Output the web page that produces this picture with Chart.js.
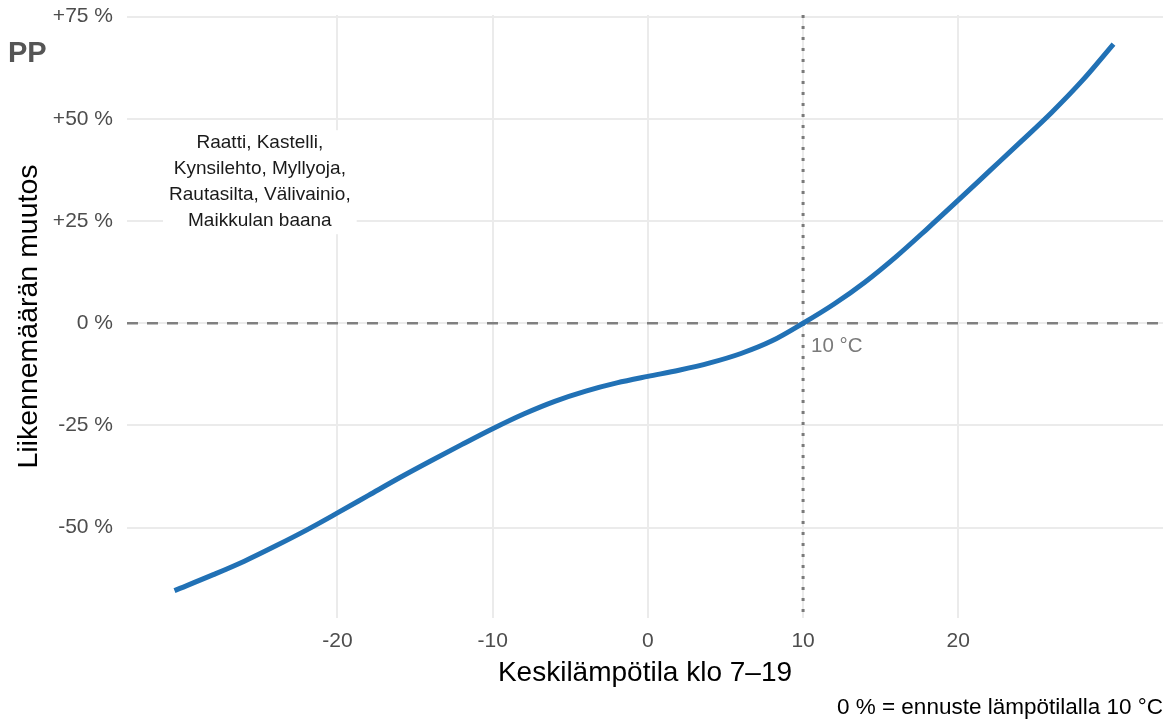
<!DOCTYPE html>
<html>
<head>
<meta charset="utf-8">
<script src="https://cdn.jsdelivr.net/npm/chart.js@4/dist/chart.umd.min.js"></script>
<style>
  html, body { margin: 0; padding: 0; background: #fff; }
  canvas { display: block; }
</style>
</head>
<body>
<canvas id="chart" width="1171" height="722"></canvas>
<script>
// mean temperature 7-19 (°C) and modelled change in traffic volume (%)
const temps = [-30.5, -28, -26, -24, -22, -20, -18, -16, -14, -12, -10, -8, -6, -4, -2, 0,
    2, 4, 6, 8, 10, 12, 14, 16, 18, 20, 22, 24, 26, 28, 30];
const change = [-65.4, -61.5, -58.2, -54.5, -50.6, -46.4, -42.1, -37.8, -33.7, -29.7, -25.8, -22.2, -19.1, -16.6, -14.6, -13.0,
    -11.5, -9.7, -7.4, -4.3, 0, 4.7, 10.1, 16.3, 23.1, 30.1, 37.2, 44.3, 51.5, 59.4, 68.3];

const xTicks = [-20, -10, 0, 10, 20];
const yTicks = [-50, -25, 0, 25, 50, 75];
const stationLines = ['Raatti, Kastelli,', 'Kynsilehto, Myllyoja,', 'Rautasilta, Välivainio,', 'Maikkulan baana'];

const refTemp = 10;
const noteAt = {x: -25, y: 34.5};
const FONT = "'Liberation Sans', Arial, sans-serif";

function pctLabel(v) {
    return (v > 0 ? '+' : '') + v + ' %';
}

const extras = {
    id: 'extras',
    beforeDatasetsDraw: function (chart) {
        const {ctx, chartArea: a, scales: {x, y}} = chart;
        ctx.save();

        //dashed zero line
        const y0 = y.getPixelForValue(0);
        ctx.strokeStyle = '#808080';
        ctx.lineWidth = 2.7;
        ctx.setLineDash([11, 9]);
        ctx.beginPath();
        ctx.moveTo(a.left, y0);
        ctx.lineTo(a.right, y0);
        ctx.stroke();

        //dotted line at reference temperature
        const xr = x.getPixelForValue(refTemp);
        ctx.strokeStyle = '#7a7a7a';
        ctx.lineWidth = 3;
        ctx.setLineDash([3, 8]);
        ctx.beginPath();
        ctx.moveTo(xr, a.top);
        ctx.lineTo(xr, a.bottom);
        ctx.stroke();
        ctx.setLineDash([]);

        ctx.fillStyle = '#7a7a7a';
        ctx.font = '20.5px ' + FONT;
        ctx.textAlign = 'left';
        ctx.textBaseline = 'alphabetic';
        ctx.fillText(refTemp + ' °C', xr + 8, y0 + 29);

        //station label with white background
        const cx = x.getPixelForValue(noteAt.x);
        const cy = y.getPixelForValue(noteAt.y);
        const gap = 26;
        ctx.font = '19px ' + FONT;
        let w = 0;
        stationLines.forEach(function (s) { w = Math.max(w, ctx.measureText(s).width); });
        ctx.fillStyle = '#ffffff';
        ctx.fillRect(cx - w / 2 - 6, cy - stationLines.length * gap / 2, w + 12, stationLines.length * gap);
        ctx.fillStyle = '#1a1a1a';
        ctx.textAlign = 'center';
        ctx.textBaseline = 'middle';
        stationLines.forEach(function (s, i) {
            ctx.fillText(s, cx, cy + (i - (stationLines.length - 1) / 2) * gap);
        });
        ctx.restore();
    },
    afterDraw: function (chart) {
        const ctx = chart.ctx;
        ctx.save();
        ctx.fillStyle = '#555555';
        ctx.font = 'bold 29px ' + FONT;
        ctx.textAlign = 'left';
        ctx.textBaseline = 'alphabetic';
        ctx.fillText('PP', 8, 62);

        ctx.fillStyle = '#000000';
        ctx.font = '22.5px ' + FONT;
        ctx.textAlign = 'right';
        ctx.fillText('0 % = ennuste lämpötilalla 10 °C', 1163, 714);
        ctx.restore();
    }
};

new Chart(document.getElementById('chart'), {
    type: 'line',
    data: {
        datasets: [{
            data: temps.map(function (t, i) { return {x: t, y: change[i]}; }),
            borderColor: '#2171b5',
            borderWidth: 5,
            pointRadius: 0,
            fill: false,
            cubicInterpolationMode: 'monotone'
        }]
    },
    options: {
        responsive: false,
        animation: false,
        devicePixelRatio: 1,
        layout: {padding: {top: 15, right: 8, bottom: 0, left: 0}},
        plugins: {legend: {display: false}, tooltip: {enabled: false}},
        scales: {
            x: {
                type: 'linear',
                min: -33.56,
                max: 33.19,
                afterBuildTicks: function (scale) { scale.ticks = xTicks.map(function (v) { return {value: v}; }); },
                afterFit: function (scale) {
                    scale.height = 104;
                    scale.paddingLeft = 0;
                    scale.paddingRight = 0;
                },
                grid: {color: '#ebebeb', lineWidth: 2, drawTicks: false},
                border: {display: false},
                ticks: {color: '#4d4d4d', font: {family: FONT, size: 21}, padding: 11},
                title: {
                    display: true,
                    text: 'Keskilämpötila klo 7–19',
                    color: '#000000',
                    font: {family: FONT, size: 28},
                    padding: {top: 0, bottom: 32}
                }
            },
            y: {
                min: -72.1,
                max: 75.4,
                afterBuildTicks: function (scale) { scale.ticks = yTicks.map(function (v) { return {value: v}; }); },
                afterFit: function (scale) {
                    //ggplot panel: tick labels may stick out above the plot area
                    scale.width = 127;
                    scale.paddingTop = 0;
                    scale.paddingBottom = 0;
                },
                grid: {color: '#ebebeb', lineWidth: 2, drawTicks: false},
                border: {display: false},
                ticks: {color: '#4d4d4d', font: {family: FONT, size: 21}, padding: 14, callback: pctLabel},
                title: {
                    display: true,
                    text: 'Liikennemäärän muutos',
                    color: '#000000',
                    font: {family: FONT, size: 28.5},
                    padding: {top: 12, bottom: 0}
                }
            }
        }
    },
    plugins: [extras]
});
</script>
</body>
</html>
